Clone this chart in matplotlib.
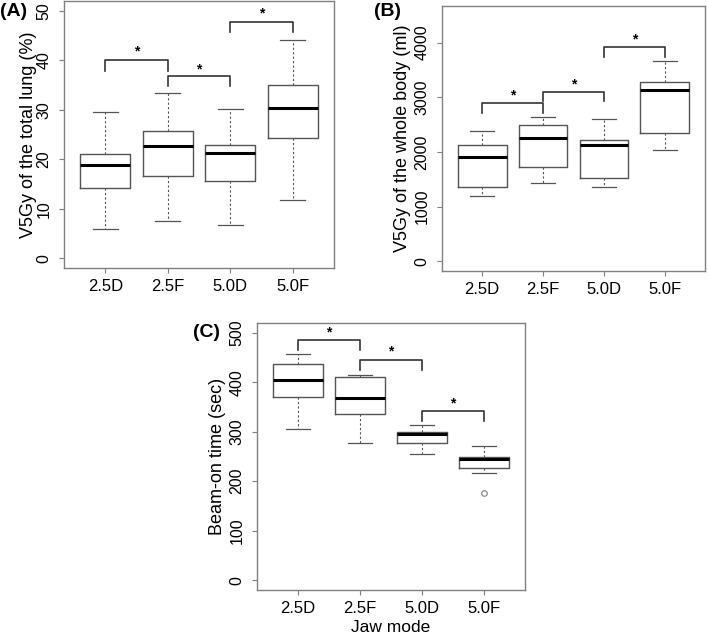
#!/usr/bin/env python3
"""Box plots of V5Gy lung / whole body and beam-on time per jaw mode."""

import matplotlib

matplotlib.use("Agg")
import matplotlib.pyplot as plt

plt.rcParams["font.family"] = ["Liberation Sans", "DejaVu Sans"]

groups = ["2.5D", "2.5F", "5.0D", "5.0F"]

# (A) V5Gy of the total lung (%)
lung_low = [5.9, 7.5, 6.7, 11.7]
lung_q1 = [14.1, 16.7, 15.6, 24.2]
lung_med = [18.9, 22.6, 21.2, 30.3]
lung_q3 = [21.0, 25.7, 22.8, 35.1]
lung_high = [29.6, 33.4, 30.1, 44.2]
lung_fliers = [[], [], [], []]
# (left group, right group, bracket top, leg end, star)
lung_brackets = [(1, 2, 40.0, 37.9, 41.7), (2, 3, 36.9, 34.9, 38.1), (3, 4, 47.7, 45.7, 49.4)]

# (B) V5Gy of the whole body (ml)
body_low = [1190, 1440, 1360, 2030]
body_q1 = [1360, 1730, 1530, 2350]
body_med = [1900, 2260, 2120, 3140]
body_q3 = [2120, 2490, 2220, 3280]
body_high = [2390, 2630, 2600, 3660]
body_fliers = [[], [], [], []]
body_brackets = [(1, 2, 2900, 2720, 3035), (2, 3, 3105, 2925, 3240), (3, 4, 3920, 3740, 4060)]

# (C) beam-on time (sec)
beam_low = [305, 278, 256, 216]
beam_q1 = [371, 335, 278, 226]
beam_med = [404, 369, 296, 245]
beam_q3 = [438, 411, 300, 249]
beam_high = [458, 414, 313, 271]
beam_fliers = [[], [], [], [176]]
beam_brackets = [(1, 2, 485, 465, 500), (2, 3, 445, 424, 462), (3, 4, 342, 321, 358)]

GRAY = "#808080"
BOX = "#555555"


def draw_panel(ax, low, q1, med, q3, high, fliers, brackets, ylim, yticks, ylabel):
    stats = []
    for i, g in enumerate(groups):
        stats.append(
            dict(label=g, whislo=low[i], q1=q1[i], med=med[i], q3=q3[i], whishi=high[i], fliers=fliers[i])
        )
    ax.bxp(
        stats,
        positions=range(1, len(groups) + 1),
        widths=0.8,
        showfliers=True,
        boxprops=dict(color=BOX, linewidth=1.0),
        medianprops=dict(color="black", linewidth=2.2, solid_capstyle="butt"),
        whiskerprops=dict(color=BOX, linewidth=0.8, linestyle=(0, (2, 2))),
        capprops=dict(color=BOX, linewidth=0.9),
        capwidths=0.4,
        flierprops=dict(marker="o", markersize=4, markerfacecolor="none", markeredgecolor=GRAY, markeredgewidth=0.8),
    )
    for a, b, top, leg, star in brackets:
        ax.plot([a, a, b, b], [leg, top, top, leg], color="#333333", linewidth=1.2)
        ax.text((a + b) / 2, star, "*", ha="center", va="center", fontsize=10, fontweight="bold")

    ax.set_xlim(0.34, 4.66)
    ax.set_ylim(*ylim)
    ax.set_yticks(yticks)
    ax.set_yticklabels([str(t) for t in yticks], rotation=90, va="center", fontsize=11.5)
    ax.set_xticks(range(1, len(groups) + 1))
    ax.set_xticklabels(groups, fontsize=12)
    ax.tick_params(axis="both", colors=GRAY, labelcolor="black", length=3.6, width=0.8)
    ax.tick_params(axis="x", pad=4)
    ax.tick_params(axis="y", pad=5.5)
    for spine in ax.spines.values():
        spine.set_color(GRAY)
        spine.set_linewidth(1.0)
    ax.set_ylabel(ylabel, fontsize=13, va="center")
    ax.yaxis.set_label_coords(-0.13, 0.5)
    return ax


fig = plt.figure(figsize=(7.08, 6.38), dpi=100)
W, H = 708.0, 638.0


def add_axes(left, right, top, bottom):
    return fig.add_axes([left / W, 1 - bottom / H, (right - left) / W, (bottom - top) / H])


ax_a = add_axes(64, 334, 1, 268)
ax_b = add_axes(442, 705, 5.5, 271)
ax_c = add_axes(257, 525, 323, 590)

draw_panel(ax_a, lung_low, lung_q1, lung_med, lung_q3, lung_high, lung_fliers, lung_brackets,
           (-2, 52), [0, 10, 20, 30, 40, 50], "V5Gy of the total lung (%)")
draw_panel(ax_b, body_low, body_q1, body_med, body_q3, body_high, body_fliers, body_brackets,
           (-180, 4680), [0, 1000, 2000, 3000, 4000], "V5Gy of the whole body (ml)")
draw_panel(ax_c, beam_low, beam_q1, beam_med, beam_q3, beam_high, beam_fliers, beam_brackets,
           (-20, 520), [0, 100, 200, 300, 400, 500], "Beam-on time (sec)")
ax_b.yaxis.set_label_coords(-0.152, 0.5)
ax_c.yaxis.set_label_coords(-0.146, 0.5)
ax_c.set_xlabel("Jaw mode", fontsize=12.5, va="center")
ax_c.xaxis.set_label_coords(0.5, -0.14)

fig.text(14 / W, 1 - 12 / H, "(A)", fontsize=14, fontweight="bold", ha="center", va="center")
fig.text(388 / W, 1 - 12 / H, "(B)", fontsize=14, fontweight="bold", ha="center", va="center")
fig.text(207 / W, 1 - 332 / H, "(C)", fontsize=14, fontweight="bold", ha="center", va="center")

fig.savefig("out.png", dpi=100)
